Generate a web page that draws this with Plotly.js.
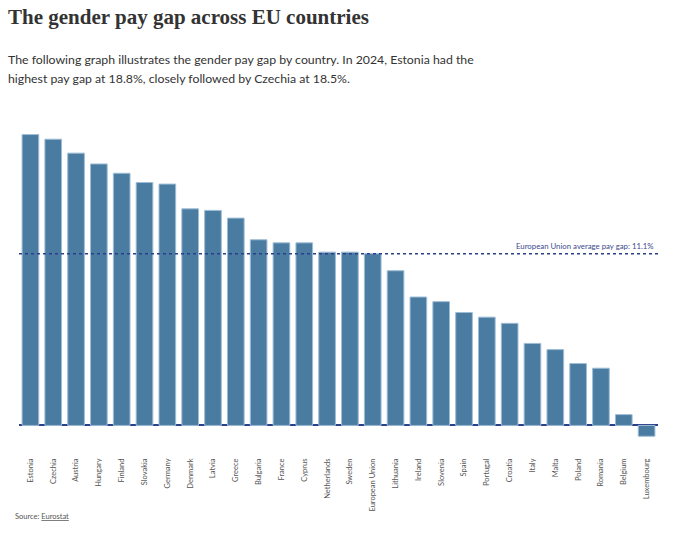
<!DOCTYPE html>
<html>
<head>
<meta charset="utf-8">
<script src="https://cdn.plot.ly/plotly-3.0.1.min.js"></script>
<style>
  html, body { margin: 0; padding: 0; background: #fff; }
  #chart { width: 680px; height: 533px; }
</style>
</head>
<body>
<div id="chart"></div>
<script>
// gender pay gap 2024, %
var countries = ['Estonia', 'Czechia', 'Austria', 'Hungary', 'Finland', 'Slovakia', 'Germany',
  'Denmark', 'Latvia', 'Greece', 'Bulgaria', 'France', 'Cyprus', 'Netherlands', 'Sweden',
  'European Union', 'Lithuania', 'Ireland', 'Slovenia', 'Spain', 'Portugal', 'Croatia',
  'Italy', 'Malta', 'Poland', 'Romania', 'Belgium', 'Luxembourg'];
var payGap = [18.8, 18.5, 17.6, 16.9, 16.3, 15.7, 15.6,
  14.0, 13.9, 13.4, 12.0, 11.8, 11.8, 11.2, 11.2,
  11.1, 10.0, 8.3, 8.0, 7.3, 7.0, 6.6,
  5.3, 4.9, 4.0, 3.7, 0.7, -0.7];
var euAverage = 11.1;

var subtitleLines = [
  'The following graph illustrates the gender pay gap by country. In 2024, Estonia had the',
  'highest pay gap at 18.8%, closely followed by Czechia at 18.5%.'
];

var trace = {
  x: countries,
  y: payGap,
  type: 'bar',
  marker: {color: '#4a7ba0', line: {color: '#9dbdd6', width: 1}},
  hoverinfo: 'x+y'
};

var annotations = [
  {
    xref: 'paper', yref: 'y', x: 1, y: euAverage,
    xanchor: 'right', yanchor: 'bottom', xshift: -2, yshift: 1,
    text: 'European Union average pay gap: ' + euAverage + '%',
    showarrow: false,
    font: {size: 7.8, color: '#3d4a8f'}
  },
  {
    xref: 'paper', yref: 'paper', x: 0, y: 0, xshift: -6, yshift: -66,
    xanchor: 'left', yanchor: 'top',
    text: 'Source: <span style="text-decoration:underline">Eurostat</span>',
    showarrow: false,
    font: {size: 7.5, color: '#555'}
  },
  {
    xref: 'paper', yref: 'paper', x: 0, y: 1, xshift: -13, yshift: 113,
    xanchor: 'left', yanchor: 'top',
    text: '<b>The gender pay gap across EU countries</b>',
    showarrow: false,
    font: {family: '"Liberation Serif", "DejaVu Serif", serif', size: 21, color: '#333'}
  }
];

// subtitle, one annotation per line to get the wider line spacing
subtitleLines.forEach(function(line, i) {
  annotations.push({
    xref: 'paper', yref: 'paper', x: 0, y: 1, xshift: -13, yshift: 57 - i * 19.5,
    xanchor: 'left', yanchor: 'middle',
    text: line,
    showarrow: false,
    font: {family: 'Lato, sans-serif', size: 12.3, color: '#333'}
  });
});

var layout = {
  width: 680,
  height: 533,
  margin: {l: 19, r: 22, t: 116, b: 89},
  paper_bgcolor: '#fff',
  plot_bgcolor: '#fff',
  showlegend: false,
  bargap: 0.27,
  font: {family: 'Lato, "Noto Sans", sans-serif', color: '#555'},
  xaxis: {
    type: 'category',
    tickangle: -90,
    tickfont: {size: 7.5, color: '#555'},
    showgrid: false,
    showline: false,
    ticks: '',
    ticklabelstandoff: 12,
    fixedrange: true
  },
  yaxis: {
    range: [-1.2, 20],
    showgrid: false,
    showticklabels: false,
    zeroline: true,
    zerolinecolor: '#2b3f8a',
    zerolinewidth: 2,
    fixedrange: true
  },
  shapes: [{
    type: 'line', xref: 'paper', x0: 0, x1: 1,
    yref: 'y', y0: euAverage, y1: euAverage,
    line: {color: '#2b3f8a', width: 1.5, dash: 'dot'}
  }],
  annotations: annotations
};

Plotly.newPlot('chart', [trace], layout, {displayModeBar: false, staticPlot: true});
</script>
</body>
</html>
